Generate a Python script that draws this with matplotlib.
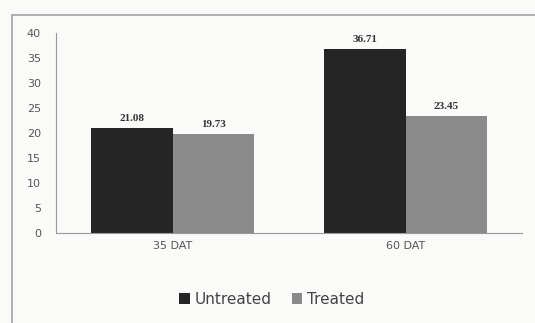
import matplotlib
matplotlib.use("Agg")
import matplotlib.pyplot as plt
import numpy as np
from matplotlib.patches import Rectangle

categories = ["35 DAT", "60 DAT"]
untreated = [21.08, 36.71]
treated = [19.73, 23.45]
series_names = ["Untreated", "Treated"]
yticks = [0, 5, 10, 15, 20, 25, 30, 35, 40]

fig = plt.figure(figsize=(5.35, 3.23), dpi=100, facecolor="#fafaf8")
ax = fig.add_axes([0.105, 0.279, 0.871, 0.619])
ax.set_facecolor("#fafaf8")

x = np.arange(len(categories))
w = 0.35
b1 = ax.bar(x - w / 2, untreated, w, color="#252525", label=series_names[0])
b2 = ax.bar(x + w / 2, treated, w, color="#8a8a8a", label=series_names[1])

for bars, vals in [(b1, untreated), (b2, treated)]:
    for r, v in zip(bars, vals):
        ax.text(r.get_x() + r.get_width() / 2, v + 1.0, f"{v:.2f}",
                ha="center", va="bottom", fontsize=8, fontweight="bold",
                family="Liberation Serif", color="#333333")

ax.set_xlim(-0.5, 1.5)
ax.set_ylim(0, 40)
ax.set_yticks(yticks)
ax.set_xticks(x)
ax.set_xticklabels(categories)
ax.tick_params(length=0, labelsize=8, colors="#555555", pad=6)
ax.tick_params(axis="y", pad=11)
for s in ["top", "right"]:
    ax.spines[s].set_visible(False)
for s in ["left", "bottom"]:
    ax.spines[s].set_color("#999999")
    ax.spines[s].set_linewidth(0.8)

fig.legend(handles=[b1, b2], labels=series_names, loc="center",
           bbox_to_anchor=(0.508, 0.073), ncol=2, frameon=False,
           prop={"size": 11},
           handlelength=0.7, handleheight=0.7, handletextpad=0.3, columnspacing=1.3,
           labelcolor="#444444")

fig.patches.append(Rectangle((0.022, -0.1), 1.1, 1.054, transform=fig.transFigure,
                             fill=False, edgecolor="#aaaaaa", linewidth=1.3))

fig.savefig("out.png", dpi=100, facecolor=fig.get_facecolor())
